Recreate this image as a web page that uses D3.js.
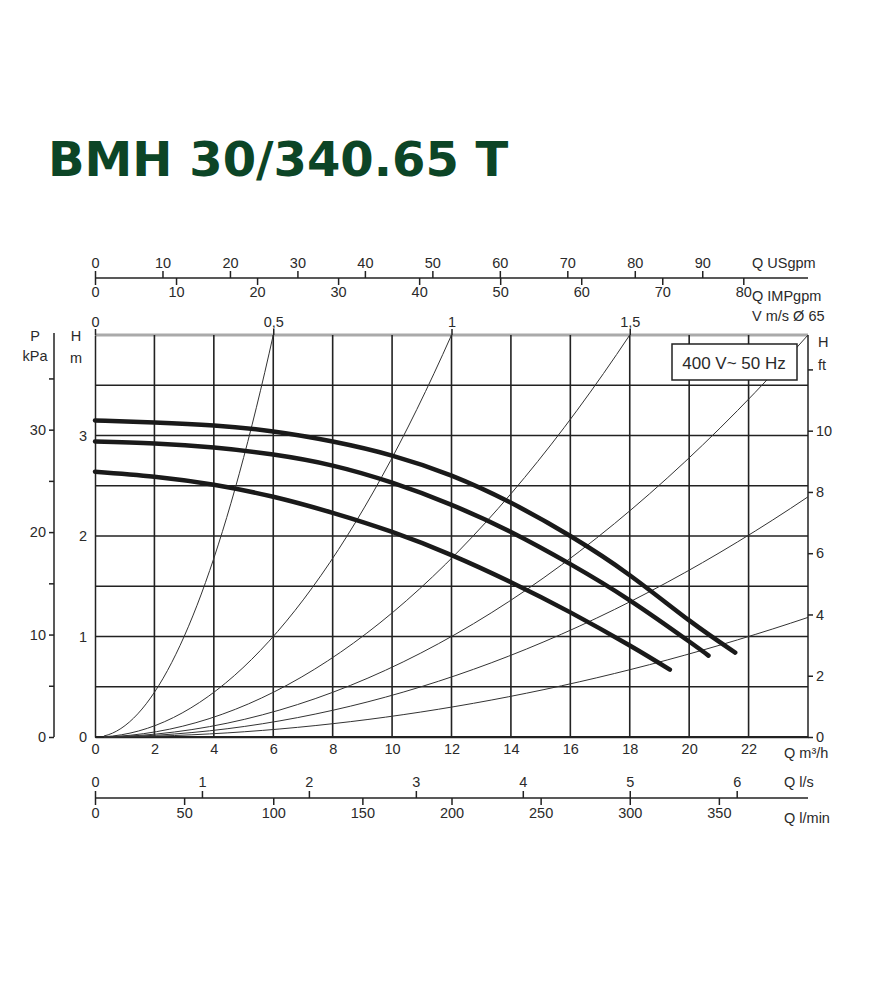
<!DOCTYPE html>
<html>
<head>
<meta charset="utf-8">
<script src="https://cdn.jsdelivr.net/npm/d3@7"></script>
<style>
body { margin: 0; background: #fff; }
text { font-family: "Liberation Sans", Arial, sans-serif; fill: #2a2a2a; }
</style>
</head>
<body>
<div id="chart"></div>
<script>
// pump curves, Q m3/h vs H m
const curveHigh = [[0, 3.15], [2, 3.13], [4, 3.1], [6, 3.04], [8, 2.94], [10, 2.8], [12, 2.6], [14, 2.33], [16, 2.0], [18, 1.61], [20, 1.16], [21.55, 0.84]];
const curveMid = [[0, 2.94], [2, 2.92], [4, 2.88], [6, 2.81], [8, 2.7], [10, 2.53], [12, 2.31], [14, 2.04], [16, 1.72], [18, 1.36], [20, 0.95], [20.65, 0.81]];
const curveLow = [[0, 2.64], [2, 2.59], [4, 2.51], [6, 2.39], [8, 2.23], [10, 2.04], [12, 1.81], [14, 1.54], [16, 1.24], [18, 0.91], [19.35, 0.67]];
// system curve end points (Q where it leaves the plot, H there)
const systemEnds = [[6, 4], [12, 4], [18, 4], [24, 4], [24, 2.39], [24, 1.19]];

const qTicks = [0, 2, 4, 6, 8, 10, 12, 14, 16, 18, 20, 22];
const hTicks = [0, 1, 2, 3];
const kpaTicks = [0, 10, 20, 30];
const ftTicks = [0, 2, 4, 6, 8, 10];
const usgpmTicks = [0, 10, 20, 30, 40, 50, 60, 70, 80, 90];
const impTicks = [0, 10, 20, 30, 40, 50, 60, 70, 80];
const velTicks = [0, 0.5, 1, 1.5];
const lsTicks = [0, 1, 2, 3, 4, 5, 6];
const lminTicks = [0, 50, 100, 150, 200, 250, 300, 350];

const w = 885, h = 1000;
const x0 = 95, x1 = 808, yTop = 335, yBot = 737;

const x = d3.scaleLinear().domain([0, 24]).range([x0, x1]);
const y = d3.scaleLinear().domain([0, 4]).range([yBot, yTop]);

const svg = d3.select("#chart").append("svg").attr("width", w).attr("height", h);

svg.append("text").attr("x", 48).attr("y", 176)
  .style("font-family", "'DejaVu Sans', sans-serif").style("font-weight", "bold")
  .style("font-size", "48px").style("fill", "#0c4526")
  .text("BMH 30/340.65 T");

// grid
const grid = svg.append("g");
d3.range(0.5, 4, 0.5).forEach(v => {
  grid.append("line").attr("x1", x0).attr("x2", x1).attr("y1", y(v)).attr("y2", y(v))
    .attr("stroke", "#222").attr("stroke-width", 1.6);
});
grid.append("line").attr("x1", x0).attr("x2", x1).attr("y1", yTop).attr("y2", yTop)
  .attr("stroke", "#aaa").attr("stroke-width", 3);
d3.range(2, 24, 2).forEach(v => {
  grid.append("line").attr("x1", x(v)).attr("x2", x(v)).attr("y1", yTop).attr("y2", yBot)
    .attr("stroke", "#222").attr("stroke-width", 1.6);
});

const fs = "14.5px";
function styleAxis(g) {
  g.selectAll("path,line").attr("stroke", "#222").attr("stroke-width", 1.5);
  g.selectAll("text").style("font-size", fs).attr("fill", "#2a2a2a");
}

// bottom Q m3/h
svg.append("g").attr("transform", `translate(0,${yBot})`)
  .call(d3.axisBottom(x).tickValues(qTicks).tickSize(0).tickPadding(7).tickFormat(d3.format("d")))
  .call(styleAxis);
svg.append("line").attr("x1", x0).attr("x2", x1).attr("y1", yBot).attr("y2", yBot).attr("stroke", "#222").attr("stroke-width", 2);

// left H m
svg.append("g").attr("transform", `translate(${x0},0)`)
  .call(d3.axisLeft(y).tickValues(hTicks).tickSize(0).tickPadding(8).tickFormat(d3.format("d")))
  .call(styleAxis);

// P kPa axis
const pScale = d3.scaleLinear().domain([0, 39.24]).range([yBot, yTop]);
svg.append("g").attr("transform", "translate(54,0)")
  .call(d3.axisLeft(pScale).tickValues(d3.range(0, 40, 5)).tickSize(5).tickPadding(3)
    .tickFormat(d => kpaTicks.includes(d) ? d : ""))
  .call(styleAxis).select(".domain").attr("d", `M0,${yTop - 2}V${yBot}`);

// right H ft
const ftScale = d3.scaleLinear().domain([0, 4 / 0.3048]).range([yBot, yTop]);
svg.append("g").attr("transform", `translate(${x1},0)`)
  .call(d3.axisRight(ftScale).tickValues(d3.range(0, 13, 2)).tickSize(5).tickPadding(3)
    .tickFormat(d => ftTicks.includes(d) ? d : ""))
  .call(styleAxis).select(".domain").attr("d", `M0,${yTop}V${yBot}`);

// top axes
const usScale = d3.scaleLinear().domain([0, 24 * 4.403]).range([x0, x1]);
const impScale = d3.scaleLinear().domain([0, 24 * 3.666]).range([x0, x1]);
const vScale = d3.scaleLinear().domain([0, 2]).range([x0, x1]);
svg.append("g").attr("transform", "translate(0,278)")
  .call(d3.axisTop(usScale).tickValues(usgpmTicks).tickSize(7).tickPadding(3))
  .call(styleAxis).select(".domain").attr("d", `M${x0},0H${x1}`);
svg.append("g").attr("transform", "translate(0,278)")
  .call(d3.axisBottom(impScale).tickValues(impTicks).tickSize(7).tickPadding(2))
  .call(styleAxis).select(".domain").remove();
svg.append("g").attr("transform", `translate(0,${yTop})`)
  .call(d3.axisTop(vScale).tickValues(velTicks).tickSize(6).tickPadding(2).tickFormat(d => String(d).replace(".", ",")))
  .call(styleAxis).select(".domain").remove();

// bottom l/s, l/min
const lsScale = d3.scaleLinear().domain([0, 24 / 3.6]).range([x0, x1]);
const lmScale = d3.scaleLinear().domain([0, 400]).range([x0, x1]);
svg.append("g").attr("transform", "translate(0,798)")
  .call(d3.axisTop(lsScale).tickValues(lsTicks).tickSize(7).tickPadding(4).tickFormat(d3.format("d")))
  .call(styleAxis).select(".domain").attr("d", `M${x0},0H${x1}`);
svg.append("g").attr("transform", "translate(0,798)")
  .call(d3.axisBottom(lmScale).tickValues(lminTicks).tickSize(7).tickPadding(3))
  .call(styleAxis).select(".domain").remove();

// unit labels
const labels = [
  [752, 268, "Q USgpm", "start"], [752, 301, "Q IMPgpm", "start"], [752, 321, "V m/s Ø 65", "start"],
  [35, 341, "P", "middle"], [35, 361, "kPa", "middle"], [76, 341, "H", "middle"], [76, 363, "m", "middle"],
  [818, 347, "H", "start"], [818, 370, "ft", "start"],
  [784, 758, "Q m³/h", "start"], [784, 787, "Q l/s", "start"], [784, 823, "Q l/min", "start"]
];
labels.forEach(l => svg.append("text").attr("x", l[0]).attr("y", l[1]).attr("text-anchor", l[3])
  .style("font-size", fs).text(l[2]));

// system curves
const line = d3.line().x(d => x(d[0])).y(d => y(d[1])).curve(d3.curveMonotoneX);
systemEnds.forEach(e => {
  const k = e[1] / (e[0] * e[0]);
  const pts = d3.range(0, 41).map(i => { const q = 0.3 + (e[0] - 0.3) * i / 40; return [q, k * q * q]; });
  svg.append("path").datum(pts).attr("d", line).attr("fill", "none").attr("stroke", "#333").attr("stroke-width", 1);
});

// pump curves
[curveHigh, curveMid, curveLow].forEach(c => {
  svg.append("path").datum(c).attr("d", d3.line().x(d => x(d[0])).y(d => y(d[1])).curve(d3.curveNatural))
    .attr("fill", "none").attr("stroke", "#1a1a1a").attr("stroke-width", 4.5).attr("stroke-linecap", "round");
});

// legend box
svg.append("rect").attr("x", 672).attr("y", 344).attr("width", 125).attr("height", 36)
  .attr("fill", "#fff").attr("stroke", "#222").attr("stroke-width", 1.5);
svg.append("text").attr("x", 734).attr("y", 369).attr("text-anchor", "middle")
  .style("font-size", "17px").style("font-family", "'Liberation Sans Narrow', 'Liberation Sans', sans-serif").text("400 V~ 50 Hz");
</script>
</body>
</html>
